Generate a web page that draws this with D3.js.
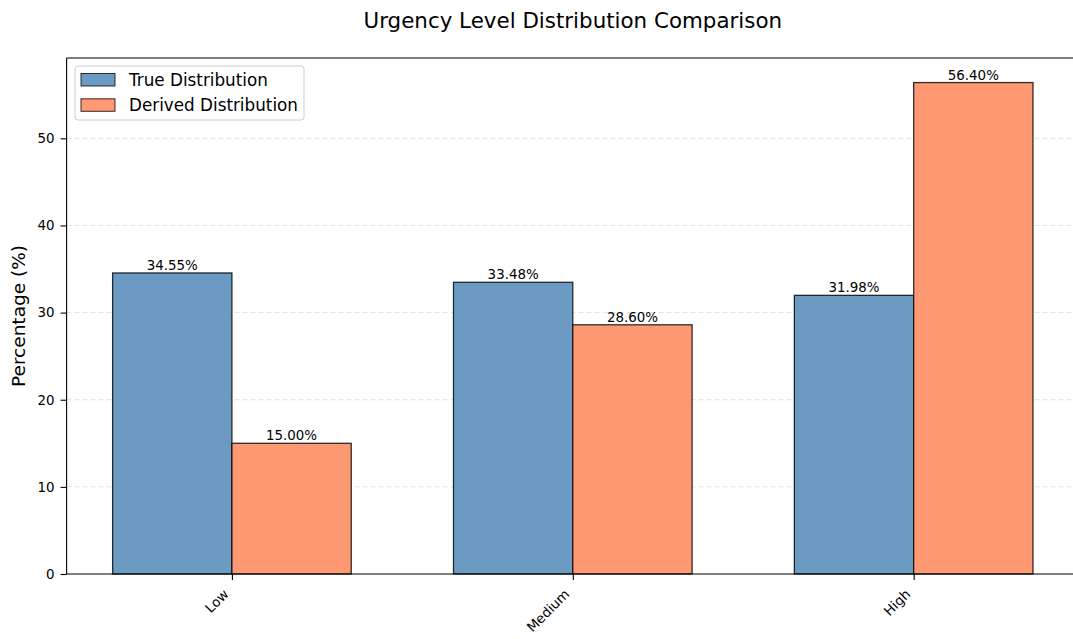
<!DOCTYPE html>
<html>
<head>
<meta charset="utf-8">
<script src="https://cdn.jsdelivr.net/npm/d3@7"></script>
<style>
  body { margin: 0; background: #fff; overflow: hidden; }
  svg { font-family: "DejaVu Sans", sans-serif; display: block; }
</style>
</head>
<body>
<div id="chart"></div>
<script>
var categories = ["Low", "Medium", "High"];
var seriesNames = ["True Distribution", "Derived Distribution"];
var trueValues = [34.55, 33.48, 31.98];
var derivedValues = [15.00, 28.60, 56.40];
var yTicks = [0, 10, 20, 30, 40, 50];

var width = 1073, height = 639,
    margin = { left: 66.6, right: -6, top: 58, bottom: 65 },
    colors = ["#6b9bc3", "#ff9973"],
    barW = 0.35;

var svg = d3.select("#chart").append("svg")
    .attr("width", width).attr("height", height);

var x = d3.scaleLinear().domain([-0.485, 2.485])
    .range([margin.left, width - margin.right]);
var y = d3.scaleLinear().domain([0, 59.22])
    .range([height - margin.bottom, margin.top]);

// grid
svg.append("g").selectAll("line")
    .data(yTicks.filter(function (d) { return d > 0; }))
    .enter().append("line")
    .attr("x1", x.range()[0]).attr("x2", x.range()[1])
    .attr("y1", function (d) { return y(d); })
    .attr("y2", function (d) { return y(d); })
    .attr("stroke", "#b0b0b0").attr("stroke-opacity", 0.35)
    .attr("stroke-dasharray", "5,3").attr("stroke-width", 1);

var series = [trueValues, derivedValues];
series.forEach(function (vals, s) {
    var off = s === 0 ? -barW / 2 : barW / 2;
    var g = svg.append("g");
    g.selectAll("rect").data(vals).enter().append("rect")
        .attr("x", function (d, i) { return x(i + off - barW / 2); })
        .attr("y", function (d) { return y(d); })
        .attr("width", x(barW) - x(0))
        .attr("height", function (d) { return y(0) - y(d); })
        .attr("fill", colors[s])
        .attr("stroke", "#000").attr("stroke-opacity", 0.8)
        .attr("stroke-width", 1.3);
    g.selectAll("text").data(vals).enter().append("text")
        .attr("x", function (d, i) { return x(i + off); })
        .attr("y", function (d) { return y(d) - 3; })
        .attr("text-anchor", "middle")
        .style("font-size", "13.4px")
        .text(function (d) { return d.toFixed(2) + "%"; });
});

// axes
var yAxis = svg.append("g")
    .attr("transform", "translate(" + margin.left + ",0)")
    .call(d3.axisLeft(y).tickValues(yTicks).tickSize(6).tickPadding(6));
yAxis.attr("font-size", null).attr("font-family", null);
yAxis.selectAll("text").style("font-size", "13.4px").attr("fill", "#000");
yAxis.selectAll("line").attr("stroke-width", 1.1);

var xAxis = svg.append("g")
    .attr("transform", "translate(0," + y(0) + ")")
    .call(d3.axisBottom(x).tickValues([0, 1, 2]).tickSize(6)
        .tickFormat(function (d) { return categories[d]; }));
xAxis.attr("font-size", null).attr("font-family", null);
xAxis.selectAll("line").attr("stroke-width", 1.1);
xAxis.selectAll("text")
    .style("font-size", "13.4px").attr("fill", "#000")
    .attr("text-anchor", "end")
    .attr("dy", null)
    .attr("y", 0)
    .attr("transform", "translate(-3,21) rotate(-45)");
svg.selectAll(".domain").remove();

// frame (right spine falls outside the canvas)
var frame = svg.append("g").attr("stroke", "#000").attr("stroke-width", 1.1);
frame.append("line").attr("x1", x.range()[0]).attr("x2", x.range()[0])
    .attr("y1", margin.top).attr("y2", y(0));
frame.append("line").attr("x1", x.range()[0]).attr("x2", width)
    .attr("y1", margin.top).attr("y2", margin.top);
frame.append("line").attr("x1", x.range()[0]).attr("x2", width)
    .attr("y1", y(0)).attr("y2", y(0));

// title
svg.append("text").attr("x", (x.range()[0] + x.range()[1]) / 2).attr("y", 28)
    .attr("text-anchor", "middle").style("font-size", "21.4px")
    .text("Urgency Level Distribution Comparison");

svg.append("text")
    .attr("transform", "translate(25," + (y(0) + margin.top) / 2 + ") rotate(-90)")
    .attr("text-anchor", "middle").style("font-size", "18.5px")
    .text("Percentage (%)");

// legend
var lg = svg.append("g").attr("transform", "translate(75,66)");
lg.append("rect").attr("width", 229).attr("height", 54).attr("rx", 3)
    .attr("fill", "#fff").attr("fill-opacity", 0.8)
    .attr("stroke", "#ccc").attr("stroke-width", 1);
seriesNames.forEach(function (name, i) {
    lg.append("rect").attr("x", 6).attr("y", 7.5 + i * 25.3)
        .attr("width", 34).attr("height", 12.5)
        .attr("fill", colors[i]).attr("stroke", "#000").attr("stroke-opacity", 0.8);
    lg.append("text").attr("x", 54).attr("y", 19.7 + i * 25.3)
        .style("font-size", "16.8px").text(name);
});
</script>
</body>
</html>
